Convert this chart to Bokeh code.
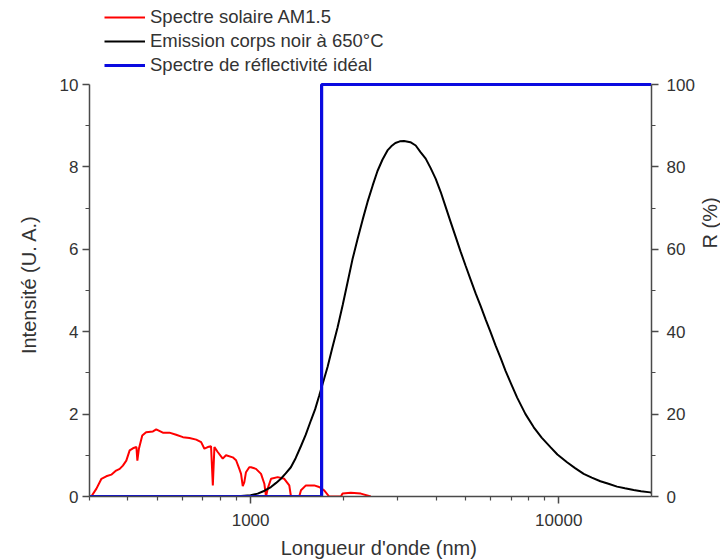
import math
from bokeh.plotting import figure
from bokeh.models import Range1d, LinearAxis, FixedTicker, PrintfTickFormatter, Axis
from bokeh.embed import file_html
from bokeh.resources import INLINE

# Solar spectrum AM1.5 (wavelength nm, intensity a.u.)
solar_nm = [304, 316, 328, 340, 353, 366, 376, 385, 395, 405, 415, 426, 429, 434,
            445, 458, 482, 494, 519, 545, 573, 603, 633, 666, 691, 708, 726, 744,
            754, 763, 782, 812, 832, 875, 897, 919, 931, 943, 954, 966, 990, 1003,
            1041, 1081, 1108, 1122, 1136, 1165, 1224, 1286, 1335, 1352, 1438, 1457,
            1512, 1608, 1669, 1733, 1798, 1963, 1988, 2114, 2279, 2455]
solar_int = [0.0, 0.19, 0.43, 0.49, 0.53, 0.63, 0.67, 0.75, 0.87, 1.12, 1.17, 1.20, 0.87, 1.16,
             1.48, 1.56, 1.58, 1.63, 1.55, 1.55, 1.50, 1.44, 1.42, 1.38, 1.32, 1.16, 1.20, 1.22,
             0.27, 1.20, 1.08, 0.92, 1.00, 0.95, 0.88, 0.67, 0.55, 0.25, 0.35, 0.59, 0.71, 0.71,
             0.67, 0.55, 0.31, 0.0, 0.19, 0.43, 0.47, 0.43, 0.27, 0.0, 0.0, 0.15,
             0.27, 0.27, 0.23, 0.15, 0.0, 0.0, 0.07, 0.09, 0.07, 0.0]

# Black-body emission at 650 C (wavelength nm, intensity a.u.)
bb_nm = [900, 931, 1000, 1054, 1110, 1164, 1210, 1254, 1300, 1351,
         1400, 1456, 1510, 1570, 1620, 1670, 1720, 1778, 1840, 1915,
         1990, 2064, 2140, 2224, 2310, 2396, 2490, 2581, 2680, 2781,
         2860, 2950, 3050, 3148, 3300, 3434, 3560, 3700, 3840, 3988,
         4140, 4295, 4460, 4629, 4800, 4986, 5180, 5374, 5580, 5789,
         6000, 6235, 6480, 6720, 7000, 7329, 7800, 8298, 8800, 9398,
         9900, 10640, 11300, 12050, 12800, 13650, 14500, 15460, 16400, 17500,
         18500, 19820, 20000]
bb_int = [0.0, 0.01, 0.03, 0.07, 0.14, 0.23, 0.33, 0.43, 0.56, 0.71,
          0.93, 1.22, 1.50, 1.85, 2.12, 2.45, 2.78, 3.15, 3.60, 4.10,
          4.65, 5.20, 5.75, 6.25, 6.72, 7.15, 7.55, 7.90, 8.18, 8.40,
          8.50, 8.58, 8.62, 8.63, 8.60, 8.52, 8.36, 8.20, 7.97, 7.71,
          7.39, 7.03, 6.66, 6.30, 5.95, 5.60, 5.26, 4.93, 4.62, 4.30,
          4.00, 3.67, 3.36, 3.05, 2.74, 2.40, 2.00, 1.68, 1.43, 1.20,
          1.02, 0.83, 0.69, 0.55, 0.46, 0.37, 0.31, 0.24, 0.20, 0.16,
          0.13, 0.10, 0.10]

# Ideal reflectivity spectrum (wavelength nm, R %)
refl_nm = [300, 1700, 1700, 20000]
refl_pct = [0, 0, 100, 100]

x_major = [1000, 10000]
x_minor = [300, 400, 500, 600, 700, 800, 900, 2000, 3000, 4000, 5000, 6000, 7000, 8000, 9000]
y_major = [0, 2, 4, 6, 8, 10]
y_minor = [1, 3, 5, 7, 9]
r_major = [0, 20, 40, 60, 80, 100]
r_minor = [10, 30, 50, 70, 90]

FONT = "Liberation Sans"
TXT = "#333333"
AX = "#4a4a4a"
NB = "\u00a0"

# The frame extends above the axes (to hold the legend); axes are bounded to 0-10 / 0-100.
PLOT_H = 412          # pixel height of the 0..10 span
FRAME_H = 496         # frame height incl. legend area above
Y_TOP = 10 * FRAME_H / PLOT_H

p = figure(frame_width=562, frame_height=FRAME_H,
           x_axis_type="log", x_range=Range1d(300, 20000), y_range=Range1d(0, Y_TOP),
           output_backend="svg", toolbar_location=None,
           min_border_left=89, min_border_right=64, min_border_top=0, min_border_bottom=60,
           background_fill_color="white", border_fill_color="white")
p.outline_line_color = None
p.xgrid.visible = False
p.ygrid.visible = False
p.extra_y_ranges = {"R": Range1d(0, 10 * Y_TOP)}

p.line(solar_nm, solar_int, color="#ff0000", line_width=2, legend_label="Spectre solaire AM1.5")
p.line(bb_nm, bb_int, color="#000000", line_width=2, legend_label="Emission corps noir à 650°C")
p.line(refl_nm, refl_pct, color="#0a0ae0", line_width=3.2, y_range_name="R",
       legend_label="Spectre de réflectivité idéal")

right = LinearAxis(y_range_name="R")
p.add_layout(right, "right")

p.xaxis.ticker = FixedTicker(ticks=x_major, minor_ticks=x_minor)
p.xaxis.formatter = PrintfTickFormatter(format="%d")
p.yaxis[0].ticker = FixedTicker(ticks=y_major, minor_ticks=y_minor)
p.yaxis[0].bounds = (0, 10)
right.ticker = FixedTicker(ticks=r_major, minor_ticks=r_minor)
right.bounds = (0, 100)

# non-breaking-space padding shifts the titles to sit beside the 0-10 axis span
p.xaxis.axis_label = NB * 3 + "Longueur d'onde (nm)"
p.yaxis[0].axis_label = "Intensité (U. A.)" + NB * 13
right.axis_label = "R (%)" + NB * 6
if "axis_label_orientation" in Axis.properties():
    right.axis_label_orientation = math.pi / 2

for ax in [p.xaxis[0], p.yaxis[0], right]:
    ax.axis_line_color = AX
    ax.axis_line_width = 1.5
    ax.major_tick_line_color = AX
    ax.minor_tick_line_color = AX
    ax.major_tick_line_width = 1.5
    ax.minor_tick_line_width = 1.2
    ax.major_tick_in = 0
    ax.major_tick_out = 7
    ax.minor_tick_in = 0
    ax.minor_tick_out = 4
    ax.major_label_text_font = FONT
    ax.major_label_text_font_size = "17px"
    ax.major_label_text_color = TXT
    ax.axis_label_text_font = FONT
    ax.axis_label_text_font_size = "20px"
    ax.axis_label_text_font_style = "normal"
    ax.axis_label_text_color = TXT

right.axis_label_text_align = "right"

p.xaxis.major_label_standoff = 10
p.xaxis.axis_label_standoff = 8
p.yaxis[0].major_label_standoff = 4
p.yaxis[0].axis_label_standoff = 17
right.major_label_standoff = 8
right.axis_label_standoff = 12

lg = p.legend[0]
lg.location = (15, 419)
lg.padding = 0
lg.margin = 0
lg.spacing = 0
lg.label_height = 24
lg.glyph_height = 24
lg.glyph_width = 41
lg.label_standoff = 5
lg.label_text_font = FONT
lg.label_text_font_size = "18.5px"
lg.label_text_color = TXT
lg.background_fill_alpha = 0
lg.border_line_alpha = 0

open("out.html", "w").write(file_html(p, INLINE))
